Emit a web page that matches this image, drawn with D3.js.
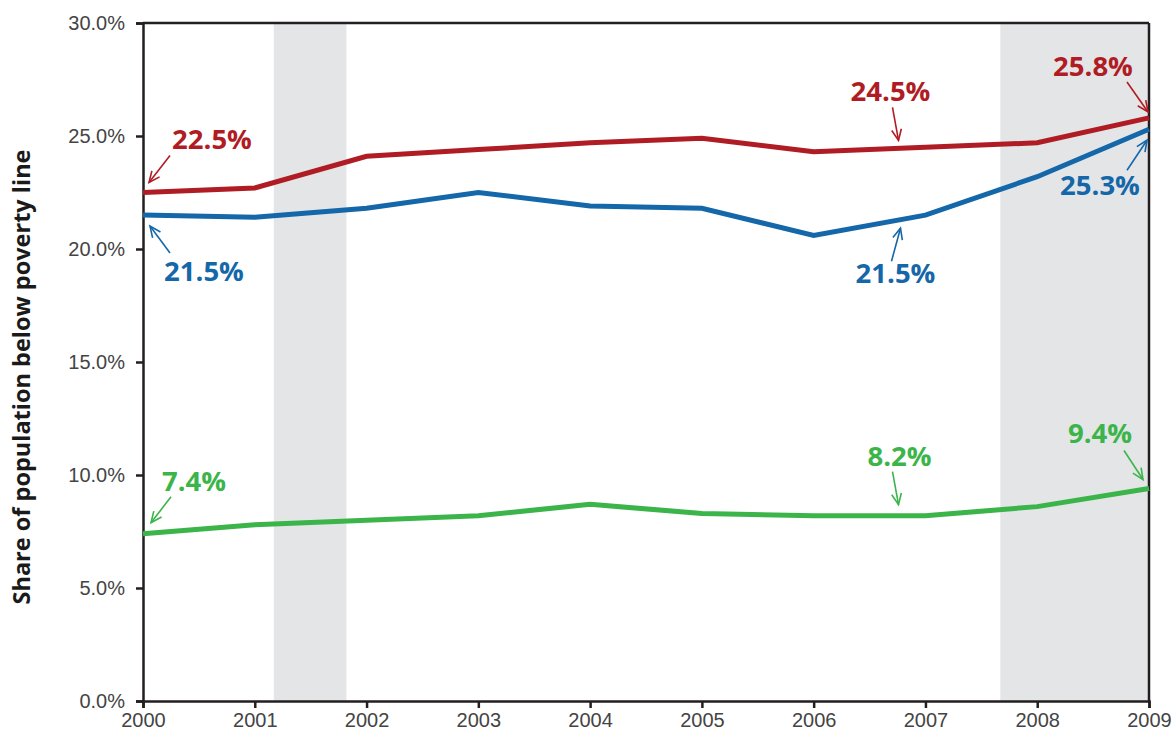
<!DOCTYPE html>
<html>
<head>
<meta charset="utf-8">
<script src="https://cdn.jsdelivr.net/npm/d3@7"></script>
<style>
  body { margin: 0; background: #fff; }
  svg { display: block; font-family: "Open Sans", "Noto Sans", sans-serif; }
</style>
</head>
<body>
<div id="container"></div>
<script>
const width = 1176;
const height = 741;

// data
const years = [2000, 2001, 2002, 2003, 2004, 2005, 2006, 2007, 2008, 2009];
const redValues   = [22.5, 22.7, 24.1, 24.4, 24.7, 24.9, 24.3, 24.5, 24.7, 25.8];
const blueValues  = [21.5, 21.4, 21.8, 22.5, 21.9, 21.8, 20.6, 21.5, 23.2, 25.3];
const greenValues = [7.4, 7.8, 8.0, 8.2, 8.7, 8.3, 8.2, 8.2, 8.6, 9.4];
const yTicks = [0, 5, 10, 15, 20, 25, 30];
const recessions = [[2001.17, 2001.82], [2007.67, 2009]];
const yTitle = "Share of population below poverty line";

// callouts: series, year pointed at, label
const calloutSeries = ["red", "blue", "red", "red", "blue", "blue", "green", "green", "green"];
const calloutYears  = [2000, 2000, 2006.75, 2009, 2009, 2006.75, 2000, 2006.75, 2009];
const calloutLabels = ["22.5%", "21.5%", "24.5%", "25.8%", "25.3%", "21.5%", "7.4%", "8.2%", "9.4%"];

const seriesColor = { red: "#b01c23", blue: "#1467a8", green: "#3bb44a" };
const seriesValues = { red: redValues, blue: blueValues, green: greenValues };

// pixel offsets of callouts from their point: tip, tail, label anchor
const calloutOffsets = [
  { tip: [6, -10], tail: [27, -37], label: [69, -44] },
  { tip: [7, 11], tail: [27, 38], label: [61, 66] },
  { tip: [1, -8], tail: [-5, -41], label: [-7, -47] },
  { tip: [-1, -6], tail: [-22, -36], label: [-56, -42] },
  { tip: [-2, 11], tail: [-22, 41], label: [-49, 66] },
  { tip: [3, 8], tail: [-6, 41], label: [-2, 63] },
  { tip: [8, -11], tail: [28, -37], label: [51, -43] },
  { tip: [1, -11], tail: [-5, -44], label: [2, -50] },
  { tip: [-6, -9], tail: [-25, -38], label: [-49, -46] }
];

const margin = { top: 23, right: 27, bottom: 40, left: 143 };

const x = d3.scaleLinear().domain([2000, 2009]).range([margin.left, width - margin.right]);
const y = d3.scaleLinear().domain([0, 30]).range([height - margin.bottom, margin.top]);

const svg = d3.select("#container").append("svg")
  .attr("width", width)
  .attr("height", height);

// recession shading
svg.selectAll(".shade").data(recessions).enter().append("rect")
  .attr("class", "shade")
  .attr("x", d => x(d[0]))
  .attr("y", y(30))
  .attr("width", d => x(d[1]) - x(d[0]))
  .attr("height", y(0) - y(30))
  .attr("fill", "#e4e5e7");

// frame top and right
svg.append("line")
  .attr("x1", x(2000)).attr("x2", x(2009))
  .attr("y1", y(30)).attr("y2", y(30))
  .attr("stroke", "#231f20").attr("stroke-width", 2.5);
svg.append("line")
  .attr("x1", x(2009)).attr("x2", x(2009))
  .attr("y1", y(30)).attr("y2", y(0))
  .attr("stroke", "#231f20").attr("stroke-width", 2.5);

// axes
const yAxis = svg.append("g")
  .attr("transform", "translate(" + margin.left + ",0)")
  .call(d3.axisLeft(y).tickValues(yTicks).tickSize(7).tickPadding(11)
    .tickFormat(d => d.toFixed(1) + "%"));

const xAxis = svg.append("g")
  .attr("transform", "translate(0," + y(0) + ")")
  .call(d3.axisBottom(x).tickValues(years).tickSize(7).tickPadding(5)
    .tickFormat(d3.format("d")));

[yAxis, xAxis].forEach(function(ax) {
  ax.select(".domain").attr("stroke", "#231f20").attr("stroke-width", 2.5);
  ax.selectAll(".tick line").attr("stroke", "#231f20").attr("stroke-width", 2.5);
  ax.selectAll(".tick text")
    .attr("fill", "#444")
    .style("font-size", "20px")
    .style("font-weight", "300");
});

// y axis title
svg.append("text")
  .attr("transform", "translate(30," + ((y(0) + y(30)) / 2 + 15) + ") rotate(-90)")
  .attr("text-anchor", "middle")
  .attr("fill", "#1a1a1a")
  .style("font-size", "23.5px")
  .style("font-weight", "700")
  .text(yTitle);

// lines
const line = d3.line()
  .x((d, i) => x(years[i]))
  .y(d => y(d));

["red", "blue", "green"].forEach(function(s) {
  svg.append("path")
    .datum(seriesValues[s])
    .attr("fill", "none")
    .attr("stroke", seriesColor[s])
    .attr("stroke-width", 5)
    .attr("stroke-linejoin", "miter")
    .attr("d", line);
});

// value on a series at fractional year
function valueAt(s, yr) {
  const interp = d3.scaleLinear().domain(years).range(seriesValues[s]);
  return interp(yr);
}

// callouts
calloutLabels.forEach(function(lbl, i) {
  const s = calloutSeries[i];
  const px = x(calloutYears[i]);
  const py = y(valueAt(s, calloutYears[i]));
  const off = calloutOffsets[i];
  const col = seriesColor[s];

  const tx = px + off.tip[0], ty = py + off.tip[1];
  const sx = px + off.tail[0], sy = py + off.tail[1];

  svg.append("line")
    .attr("x1", sx).attr("y1", sy)
    .attr("x2", tx).attr("y2", ty)
    .attr("stroke", col).attr("stroke-width", 1.6);

  // open arrowhead
  const ang = Math.atan2(ty - sy, tx - sx);
  const len = 12, spread = 0.42;
  const p1 = [tx - len * Math.cos(ang - spread), ty - len * Math.sin(ang - spread)];
  const p2 = [tx - len * Math.cos(ang + spread), ty - len * Math.sin(ang + spread)];
  svg.append("path")
    .attr("d", "M" + p1 + "L" + [tx, ty] + "L" + p2)
    .attr("fill", "none")
    .attr("stroke", col).attr("stroke-width", 1.6);

  svg.append("text")
    .attr("x", px + off.label[0])
    .attr("y", py + off.label[1])
    .attr("text-anchor", "middle")
    .attr("fill", col)
    .style("font-size", "27.5px")
    .style("font-weight", "700")
    .text(lbl);
});
</script>
</body>
</html>
